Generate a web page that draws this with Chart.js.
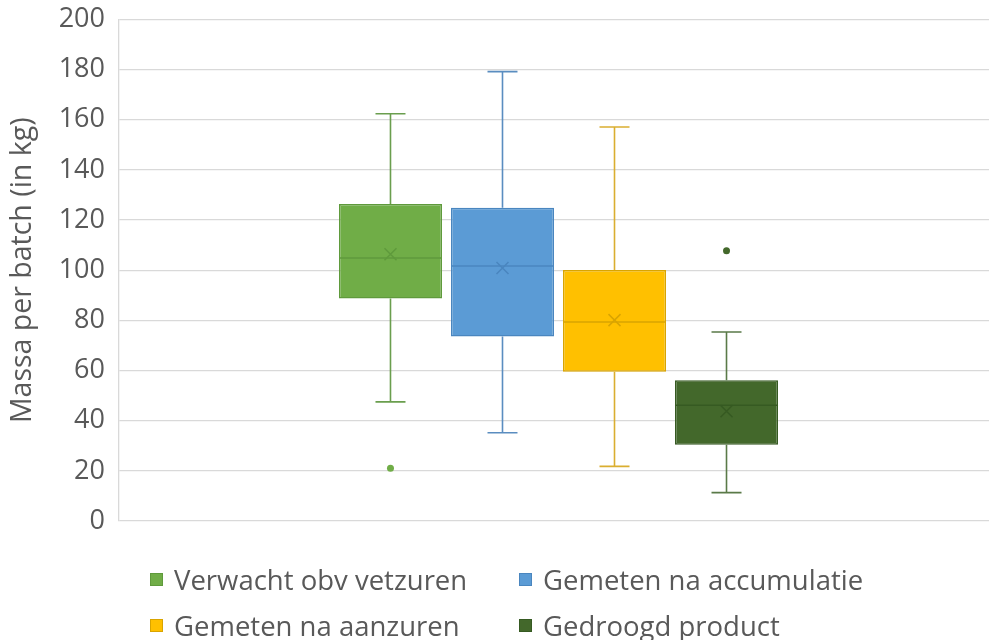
<!DOCTYPE html>
<html>
<head>
<meta charset="utf-8">
<script src="https://cdn.jsdelivr.net/npm/chart.js@4.4.1/dist/chart.umd.min.js"></script>
<style>
  html, body { margin: 0; padding: 0; background: #ffffff; overflow: hidden; }
  #wrap { position: relative; width: 989px; height: 640px; overflow: hidden; }
  canvas { position: absolute; left: 0; top: 0; }
  .legend { position: absolute; left: 0; top: 0; width: 989px; height: 640px; pointer-events: none;
            font-family: "Open Sans", Lato, sans-serif; font-size: 27.5px; color: #595959; }
  .item { position: absolute; display: flex; align-items: center; white-space: nowrap; }
  .sw { width: 13px; height: 13px; margin-right: 11px; box-sizing: border-box; }
</style>
</head>
<body>
<div id="wrap">
  <canvas id="c" width="998" height="640"></canvas>
  <div class="legend" id="legend"></div>
</div>
<script>
// Box-and-whisker summary per series (kg per batch)
const categories = [''];
const seriesNames = ['Verwacht obv vetzuren', 'Gemeten na accumulatie', 'Gemeten na aanzuren', 'Gedroogd product'];
const minValues    = [47.5, 35.2, 21.8, 11.3];
const q1Values     = [88.7, 73.6, 59.5, 30.4];
const medianValues = [104.9, 101.7, 79.4, 46.2];
const q3Values     = [126.4, 124.9, 100.1, 56.1];
const maxValues    = [162.4, 179.2, 157.1, 75.4];
const meanValues   = [106.4, 100.9, 80.1, 43.8];
const outlierValues = [[21.0], [], [], [107.8]];
const yTicks = [0, 20, 40, 60, 80, 100, 120, 140, 160, 180, 200];

const fillColors   = ['#70AD47', '#5B9BD5', '#FFC000', '#43682B'];
const edgeColors   = ['#5F9A3C', '#4A86BF', '#D9A400', '#365A22'];
const whiskerColors = ['#6A9E4E', '#5A8DC0', '#DAAE30', '#5A7A48'];

const datasets = seriesNames.map((name, i) => ({
  label: name,
  data: [[q1Values[i], q3Values[i]]],
  backgroundColor: fillColors[i],
  borderColor: edgeColors[i],
  borderWidth: 1.5,
  borderSkipped: false,
  categoryPercentage: 0.5097,
  barPercentage: 0.92
}));

// Whiskers, caps, median line, mean cross and outlier dots on top of each box
const boxExtras = {
  id: 'boxExtras',
  afterDatasetsDraw(chart) {
    const ctx = chart.ctx;
    const y = chart.scales.y;
    ctx.save();
    chart.data.datasets.forEach((ds, i) => {
      const bar = chart.getDatasetMeta(i).data[0];
      const cx = bar.x;
      const half = bar.width / 2;
      const capHalf = 15;
      const yMin = y.getPixelForValue(minValues[i]);
      const yMax = y.getPixelForValue(maxValues[i]);
      const yQ1 = y.getPixelForValue(q1Values[i]);
      const yQ3 = y.getPixelForValue(q3Values[i]);
      ctx.strokeStyle = whiskerColors[i];
      ctx.lineWidth = 1.6;
      ctx.beginPath();
      ctx.moveTo(cx, yQ3); ctx.lineTo(cx, yMax);
      ctx.moveTo(cx - capHalf, yMax); ctx.lineTo(cx + capHalf, yMax);
      ctx.moveTo(cx, yQ1); ctx.lineTo(cx, yMin);
      ctx.moveTo(cx - capHalf, yMin); ctx.lineTo(cx + capHalf, yMin);
      ctx.stroke();

      // median
      const yMed = y.getPixelForValue(medianValues[i]);
      ctx.strokeStyle = edgeColors[i];
      ctx.lineWidth = 1.5;
      ctx.beginPath();
      ctx.moveTo(cx - half, yMed); ctx.lineTo(cx + half, yMed);
      ctx.stroke();

      // mean marker
      const yMean = y.getPixelForValue(meanValues[i]);
      const s = 6;
      ctx.beginPath();
      ctx.moveTo(cx - s, yMean - s); ctx.lineTo(cx + s, yMean + s);
      ctx.moveTo(cx - s, yMean + s); ctx.lineTo(cx + s, yMean - s);
      ctx.stroke();

      // outliers
      ctx.fillStyle = fillColors[i];
      outlierValues[i].forEach(v => {
        ctx.beginPath();
        ctx.arc(cx, y.getPixelForValue(v), 3.5, 0, Math.PI * 2);
        ctx.fill();
      });
    });
    ctx.restore();
  }
};

new Chart(document.getElementById('c'), {
  type: 'bar',
  data: { labels: categories, datasets },
  plugins: [boxExtras],
  options: {
    responsive: false,
    animation: false,
    layout: { padding: { top: 19.5, bottom: 119, left: 0, right: 0 } },
    plugins: { legend: { display: false }, tooltip: { enabled: false } },
    scales: {
      x: { display: false },
      y: {
        min: 0, max: 200,
        afterBuildTicks(scale) { scale.ticks = yTicks.map(v => ({ value: v })); },
        afterFit(scale) {
          scale.width = 119;
          scale.paddingTop = 0;
          scale.paddingBottom = 0;
        },
        grid: { color: '#D9D9D9', lineWidth: 1.3, drawTicks: false },
        border: { display: true, color: '#D9D9D9', width: 1.3 },
        ticks: { color: '#595959', padding: 14, font: { family: 'Open Sans', size: 27 } },
        title: {
          display: true, text: 'Massa per batch (in kg)', color: '#595959',
          font: { family: 'Open Sans', size: 28.5 }, padding: { top: 6, bottom: 0 }
        }
      }
    }
  }
});

// Legend in two columns below the plot
const legendPos = [[150, 579], [519, 579], [150, 625], [519, 625]];
const legendEl = document.getElementById('legend');
seriesNames.forEach((name, i) => {
  const item = document.createElement('div');
  item.className = 'item';
  item.style.left = legendPos[i][0] + 'px';
  item.style.top = (legendPos[i][1] - 19) + 'px';
  item.style.height = '38px';
  const sw = document.createElement('span');
  sw.className = 'sw';
  sw.style.background = fillColors[i];
  sw.style.border = '1px solid ' + edgeColors[i];
  const txt = document.createElement('span');
  txt.textContent = name;
  item.appendChild(sw);
  item.appendChild(txt);
  legendEl.appendChild(item);
});
</script>
</body>
</html>
